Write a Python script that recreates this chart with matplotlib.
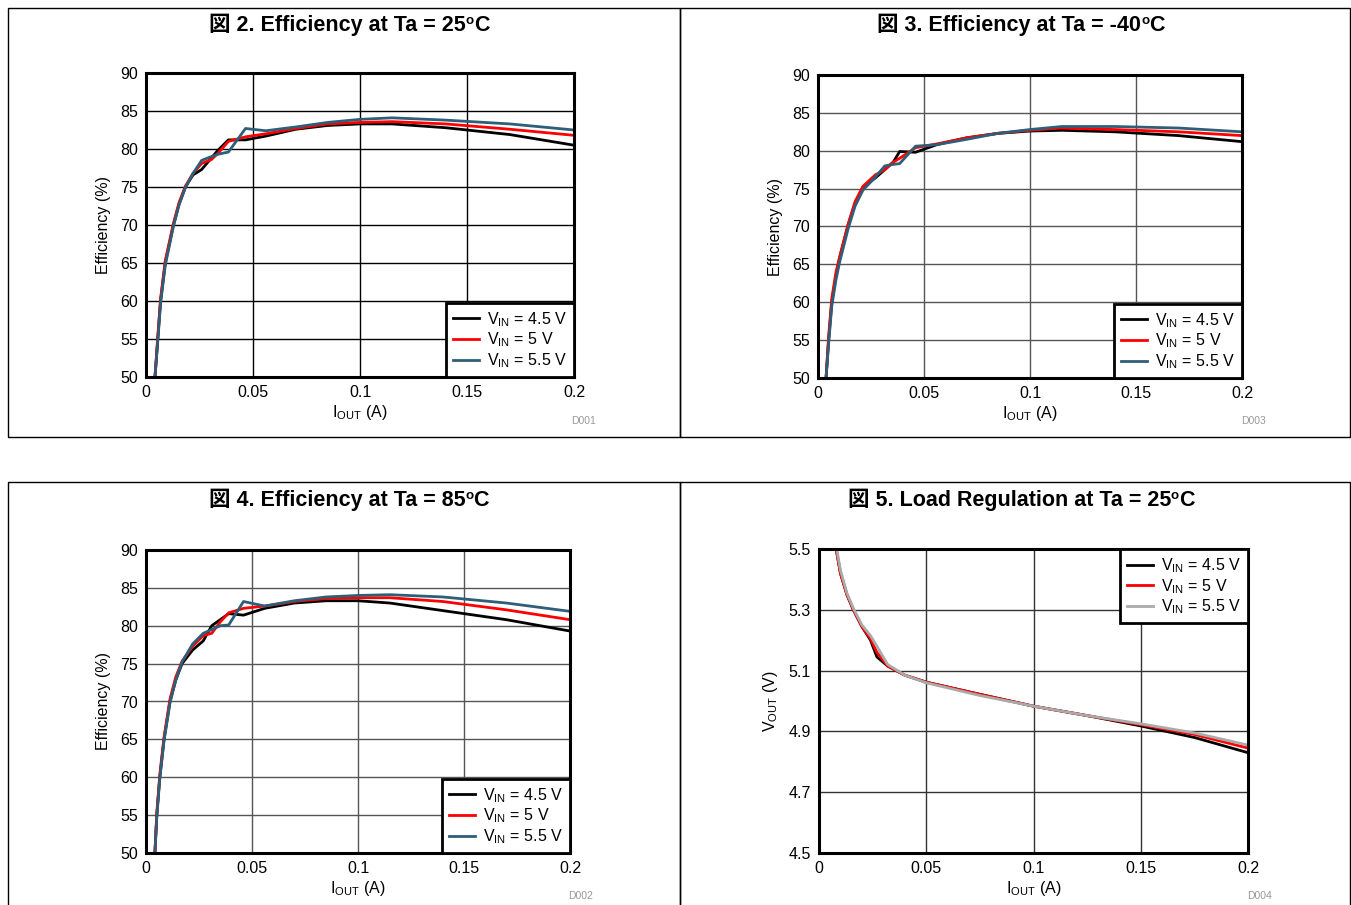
import matplotlib
matplotlib.use("Agg")
import matplotlib.pyplot as plt
from matplotlib.patches import Rectangle

plt.rcParams['font.family'] = ['Liberation Sans', 'Noto Sans CJK JP', 'DejaVu Sans']
plt.rcParams['mathtext.fontset'] = 'custom'
plt.rcParams['mathtext.rm'] = 'Liberation Sans'
plt.rcParams['mathtext.it'] = 'Liberation Sans'

W, H = 1351, 905

# ---------------- data ----------------
labels = ["V$_{\\mathrm{IN}}$ = 4.5 V", "V$_{\\mathrm{IN}}$ = 5 V", "V$_{\\mathrm{IN}}$ = 5.5 V"]

# Fig 2: Efficiency at 25C
x25 = [0.0042, 0.0055, 0.0068, 0.009, 0.0128, 0.0155, 0.0184, 0.022, 0.026, 0.0305, 0.0335,
       0.0385, 0.0465, 0.056, 0.07, 0.085, 0.1, 0.115, 0.14, 0.17, 0.2]
e25_45 = [50, 55, 60, 65, 70, 72.8, 75, 76.6, 77.3, 78.8, 79.8,
          81.2, 81.2, 81.7, 82.6, 83.1, 83.3, 83.3, 82.8, 81.9, 80.5]
e25_50 = [50, 55.3, 60.3, 65.3, 70.2, 73, 75.1, 76.8, 78.1, 78.6, 79.4,
          81, 81.6, 82.0, 82.7, 83.3, 83.5, 83.6, 83.3, 82.6, 81.8]
e25_55 = [50, 54.7, 59.7, 64.7, 69.8, 72.7, 74.9, 76.8, 78.5, 79.0, 79.3,
          79.6, 82.7, 82.4, 82.9, 83.5, 83.9, 84.1, 83.8, 83.3, 82.5]

# Fig 3: Efficiency at -40C
xm40 = [0.0038, 0.005, 0.0065, 0.0085, 0.0102, 0.0142, 0.0175, 0.0212, 0.027, 0.0315, 0.0355,
        0.0385, 0.046, 0.056, 0.07, 0.085, 0.1, 0.115, 0.14, 0.17, 0.2]
em40_45 = [50, 55, 60, 63.5, 65.8, 70.2, 73, 75.2, 76.4, 77.5, 78.5,
           79.9, 79.8, 80.8, 81.7, 82.3, 82.6, 82.7, 82.5, 82.0, 81.2]
em40_50 = [50, 55.5, 60.5, 64, 66, 70.3, 73.3, 75.3, 76.8, 77.5, 78.5,
           79.0, 80.4, 80.9, 81.7, 82.3, 82.7, 83.0, 82.8, 82.5, 82.0]
em40_55 = [50, 54.5, 59.5, 63, 65.3, 69.7, 72.7, 74.8, 76.5, 78.0, 78.2,
           78.3, 80.6, 80.8, 81.5, 82.3, 82.8, 83.2, 83.2, 83.0, 82.5]

# Fig 4: Efficiency at 85C
x85 = [0.0042, 0.0051, 0.0065, 0.0085, 0.0113, 0.014, 0.017, 0.022, 0.027, 0.031, 0.035,
       0.039, 0.046, 0.056, 0.07, 0.085, 0.1, 0.115, 0.14, 0.17, 0.2]
e85_45 = [50, 55, 60, 65, 70, 72.8, 75, 76.8, 78, 80, 80.8,
          81.6, 81.4, 82.3, 83.0, 83.3, 83.3, 83.0, 82.0, 80.8, 79.3]
e85_50 = [50, 55.3, 60.3, 65.3, 70.3, 73.2, 75.3, 77.3, 78.7, 79, 80.5,
          81.7, 82.3, 82.6, 83.2, 83.6, 83.7, 83.7, 83.2, 82.1, 80.8]
e85_55 = [50, 54.8, 59.8, 64.8, 69.8, 72.8, 75.2, 77.6, 79, 79.5, 80,
          80.1, 83.2, 82.6, 83.3, 83.8, 84.0, 84.1, 83.8, 83.0, 81.9]

# Fig 5: Load regulation at 25C
xlr = [0.008, 0.01, 0.013, 0.016, 0.02, 0.024, 0.027, 0.032, 0.04, 0.05, 0.075,
       0.1, 0.125, 0.15, 0.175, 0.2]
v45 = [5.5, 5.42, 5.35, 5.30, 5.245, 5.20, 5.145, 5.115, 5.085, 5.062, 5.022,
       4.983, 4.952, 4.918, 4.88, 4.83]
v50 = [5.5, 5.42, 5.35, 5.30, 5.245, 5.205, 5.16, 5.115, 5.085, 5.062, 5.022,
       4.983, 4.952, 4.922, 4.89, 4.845]
v55 = [5.51, 5.43, 5.355, 5.305, 5.25, 5.215, 5.18, 5.12, 5.085, 5.06, 5.018,
       4.983, 4.952, 4.925, 4.895, 4.855]

xticks = [0, 0.05, 0.1, 0.15, 0.2]
xticklabels = ["0", "0.05", "0.1", "0.15", "0.2"]
eff_ticks = [50, 55, 60, 65, 70, 75, 80, 85, 90]
v_ticks = [4.5, 4.7, 4.9, 5.1, 5.3, 5.5]
v_ticklabels = ["4.5", "4.7", "4.9", "5.1", "5.3", "5.5"]

# title pieces: (main text, superscript, tail)
titles = [("図 2. Efficiency at Ta = 25", "o", "C"),
          ("図 3. Efficiency at Ta = -40", "o", "C"),
          ("図 4. Efficiency at Ta = 85", "o", "C"),
          ("図 5. Load Regulation at Ta = 25", "o", "C")]
codes = ["D001", "D003", "D002", "D004"]

fig = plt.figure(figsize=(W / 100, H / 100), dpi=100)


def ax_at(left, top, right, bottom):
    return fig.add_axes([left / W, 1 - bottom / H, (right - left) / W, (bottom - top) / H])


def panel_box(x0, y0, x1, y1):
    fig.add_artist(Rectangle((x0 / W, 1 - y1 / H), (x1 - x0) / W, (y1 - y0) / H,
                             transform=fig.transFigure, fill=False, edgecolor='black',
                             linewidth=1.0))


def style(ax, yticks, ylim, ylabel, gridcolor):
    ax.set_xlim(0, 0.2)
    ax.set_ylim(*ylim)
    ax.set_xticks(xticks)
    ax.set_xticklabels(xticklabels)
    ax.set_yticks(yticks)
    ax.tick_params(length=0, labelsize=11.5, pad=6)
    ax.grid(True, color=gridcolor, linewidth=1.0)
    ax.set_axisbelow(True)
    for s in ax.spines.values():
        s.set_linewidth(2.2)
        s.set_color('black')
    ax.set_xlabel("I$_{\\mathrm{OUT}}$ (A)", fontsize=11.5, labelpad=2)
    ax.set_ylabel(ylabel, fontsize=11.5, labelpad=6)


def legend(ax, loc):
    leg = ax.legend(labels, loc=loc, fontsize=11.5, frameon=True, fancybox=False,
                    borderaxespad=0, handlelength=1.6, labelspacing=0.12,
                    handletextpad=0.5, borderpad=0.45)
    leg.get_frame().set_edgecolor('black')
    leg.get_frame().set_linewidth(2.0)
    leg.get_frame().set_alpha(1)


panel_box(8, 8, 680, 437)
panel_box(680, 8, 1350, 437)
panel_box(8, 482, 680, 910)
panel_box(680, 482, 1350, 910)

eff_colors = ['black', '#ff0000', '#2e5e78']
lr_colors = ['black', '#ff0000', '#aaaaaa']

# Fig 2
ax1 = ax_at(146, 73, 574, 377)
for y, c in zip([e25_45, e25_50, e25_55], eff_colors):
    ax1.plot(x25, y, color=c, linewidth=2.0)
style(ax1, eff_ticks, (50, 90), "Efficiency (%)", 'black')
legend(ax1, 'lower right')

# Fig 3
ax2 = ax_at(818, 75, 1242, 378)
for y, c in zip([em40_45, em40_50, em40_55], eff_colors):
    ax2.plot(xm40, y, color=c, linewidth=2.0)
style(ax2, eff_ticks, (50, 90), "Efficiency (%)", '#555555')
legend(ax2, 'lower right')

# Fig 4
ax3 = ax_at(146, 550, 570, 853)
for y, c in zip([e85_45, e85_50, e85_55], eff_colors):
    ax3.plot(x85, y, color=c, linewidth=2.0)
style(ax3, eff_ticks, (50, 90), "Efficiency (%)", '#555555')
legend(ax3, 'lower right')

# Fig 5
ax4 = ax_at(819, 549, 1248, 853)
for y, c in zip([v45, v50, v55], lr_colors):
    ax4.plot(xlr, y, color=c, linewidth=2.0)
style(ax4, v_ticks, (4.5, 5.5), "V$_{\\mathrm{OUT}}$ (V)", '#333333')
ax4.set_yticklabels(v_ticklabels)
legend(ax4, 'upper right')

# titles, composed from pieces so the CJK glyph and the superscript both render
renderer = fig.canvas.get_renderer()
title_pos = [(349, 25), (1021, 25), (349, 500), (1021, 500)]
tfs = 15.5
for (main, sup, tail), (cx, cy) in zip(titles, title_pos):
    t1 = fig.text(0, 0, main, fontsize=tfs, fontweight='bold', va='baseline')
    t2 = fig.text(0, 0, sup, fontsize=tfs * 0.62, fontweight='bold', va='baseline')
    t3 = fig.text(0, 0, tail, fontsize=tfs, fontweight='bold', va='baseline')
    w1 = t1.get_window_extent(renderer).width
    w2 = t2.get_window_extent(renderer).width
    w3 = t3.get_window_extent(renderer).width
    total = w1 + w2 + w3
    x0 = cx - total / 2
    base = H - cy - 6
    t1.set_position((x0 / W, base / H))
    t2.set_position(((x0 + w1) / W, (base + 7) / H))
    t3.set_position(((x0 + w1 + w2) / W, base / H))

code_pos = [(584, 421), (1253, 421), (581, 896), (1259, 896)]
for t, (x, y) in zip(codes, code_pos):
    fig.text(x / W, 1 - y / H, t, ha='center', va='center', fontsize=7.5, color='#999999')

fig.savefig("out.png", dpi=100)
